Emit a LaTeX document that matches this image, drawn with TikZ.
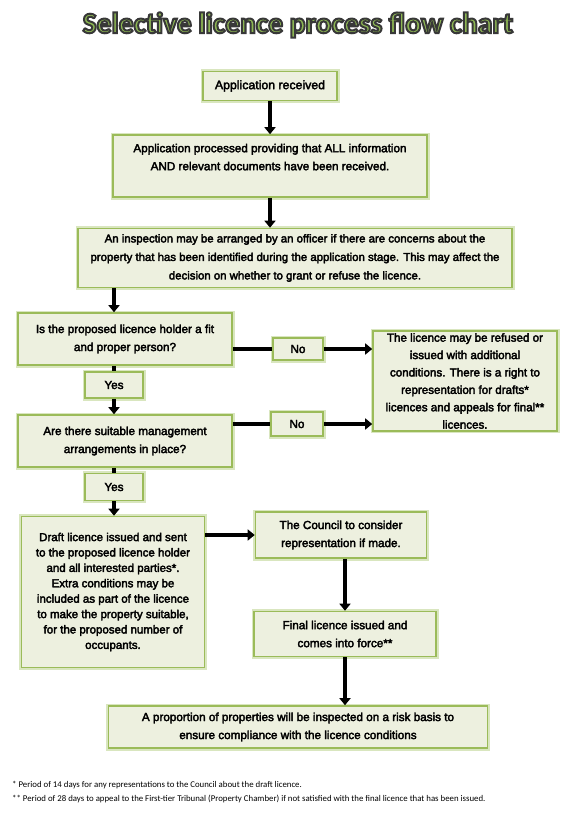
\documentclass[tikz,border=0pt]{standalone}
\usepackage{fontspec}
\setmainfont{Liberation Sans}
\newfontfamily\titlefont{Carlito}
\newfontfamily\notefont{Carlito}
\usetikzlibrary{arrows.meta}
\definecolor{boxgreen}{HTML}{9BBB59}
\definecolor{glowgreen}{HTML}{D9E6BF}
\definecolor{boxfill}{HTML}{EDF0DF}
\definecolor{titlegreen}{HTML}{8DB753}
% outlined text: green fill, dark stroke
\newcommand{\outlined}[1]{\special{pdf:literal direct 0.22 0.22 0.22 RG 2 Tr 2 w}#1\special{pdf:literal direct 0 Tr}}
% heavier box text
\newcommand{\heavyon}{\special{pdf:literal direct 2 Tr 0.35 w}}
\newcommand{\heavyoff}{\special{pdf:literal direct 0 Tr}}

\begin{document}
\begin{tikzpicture}[x=1pt, y=-1pt,
    every node/.style={font=\fontsize{11.7}{18}\selectfont},
    box/.style={draw=boxgreen, line width=1.6pt, fill=boxfill, align=center, inner sep=2pt,
        preaction={draw=glowgreen, line width=5pt},
        execute at begin node=\heavyon, execute at end node=\heavyoff},
    arr/.style={line width=4pt, -{Triangle[width=11pt,length=7pt]}},
    link/.style={line width=4pt}]
    \useasboundingbox (0,0) rectangle (576,830);

    % title
    \node[text=titlegreen, font=\titlefont\bfseries\fontsize{29.5}{34}\selectfont] (title) at (298,25) {\outlined{Selective licence process flow chart}};

    % main column
    \node[box, minimum width=134, minimum height=29, font=\fontsize{12.3}{18}\selectfont] (received) at (270,86) {Application received};
    \node[box, minimum width=314, minimum height=62] (processed) at (270,166) {Application processed providing that ALL information\\AND relevant documents have been received.\\\mbox{}};
    \node[box, minimum width=434, minimum height=59, font=\fontsize{11.4}{18.5}\selectfont] (inspection) at (295,258) {An inspection may be arranged by an officer if there are concerns about the\\property that has been identified during the application stage. This may affect the\\decision on whether to grant or refuse the licence.};

    % questions
    \node[box, minimum width=214, minimum height=52] (fitproper) at (125,339) {Is the proposed licence holder a fit\\and proper person?};
    \node[box, minimum width=58, minimum height=26] (yes1) at (114,385) {Yes};
    \node[box, minimum width=214, minimum height=52] (management) at (125,441) {Are there suitable management\\arrangements in place?};
    \node[box, minimum width=58, minimum height=27] (yes2) at (114,487) {Yes};
    \node[box, minimum width=50, minimum height=22] (no1) at (298,349) {No};
    \node[box, minimum width=52, minimum height=24] (no2) at (297,424) {No};
    \node[box, minimum width=184, minimum height=88, font=\fontsize{11.6}{17.4}\selectfont] (refused) at (465,381) {The licence may be refused or\\issued with additional\\conditions. There is a right to\\representation for drafts*\\licences and appeals for final**\\licences.};

    % draft and final
    \node[box, minimum width=183, minimum height=151, font=\fontsize{11.5}{15.4}\selectfont] (draft) at (113,592) {Draft licence issued and sent\\to the proposed licence holder\\and all interested parties*.\\Extra conditions may be\\included as part of the licence\\to make the property suitable,\\for the proposed number of\\occupants.};
    \node[box, minimum width=171, minimum height=46] (council) at (341,535) {The Council to consider\\representation if made.};
    \node[box, minimum width=182, minimum height=45] (final) at (345,634) {Final licence issued and\\comes into force**};
    \node[box, minimum width=379, minimum height=42] (risk) at (298,727) {A proportion of properties will be inspected on a risk basis to\\ensure compliance with the licence conditions};

    % footnotes
    \node[anchor=west, inner sep=0pt, font=\notefont\fontsize{8.8}{10}\selectfont] (note1) at (12,785) {* Period of 14 days for any representations to the Council about the draft licence.};
    \node[anchor=west, inner sep=0pt, font=\notefont\fontsize{8.8}{10}\selectfont] (note2) at (12,799) {** Period of 28 days to appeal to the First-tier Tribunal (Property Chamber) if not satisfied with the final licence that has been issued.};

    % connectors
    \draw[arr] (received) -- (processed);
    \draw[arr] (processed.south) -- (processed.south |- inspection.north);
    \draw[arr] (inspection.south -| yes1) -- (fitproper.north -| yes1);
    \draw[link] (fitproper.south -| yes1) -- (yes1);
    \draw[arr] (yes1) -- (management.north -| yes1);
    \draw[link] (management.south -| yes2) -- (yes2);
    \draw[arr] (yes2) -- (draft.north -| yes2);
    \draw[link] (fitproper.east |- no1) -- (no1);
    \draw[link] (management.east |- no2) -- (no2);
    \draw[arr] (no1.east) -- (no1.east -| refused.west);
    \draw[arr] (no2.east) -- (no2.east -| refused.west);
    \draw[arr] (draft.east |- council) -- (council.west);
    \draw[arr] (council.south -| final) -- (final.north);
    \draw[arr] (final.south) -- (final.south |- risk.north);
\end{tikzpicture}
\end{document}
